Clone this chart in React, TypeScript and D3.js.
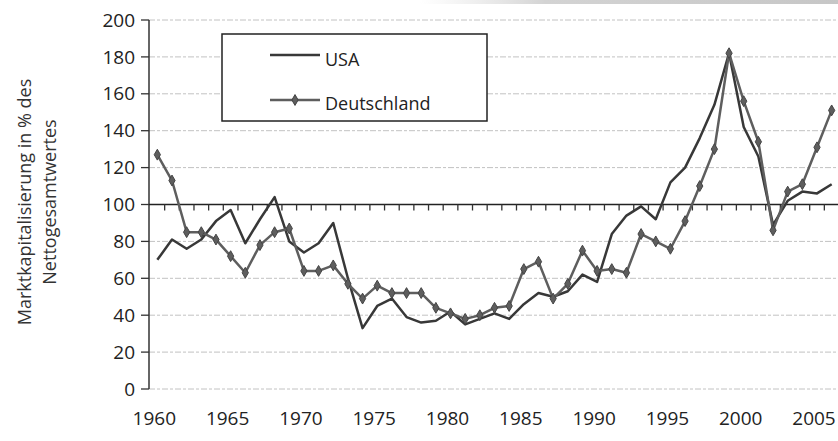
import React from "react";
import * as d3 from "d3";

const years: number[] = [
  1960, 1961, 1962, 1963, 1964, 1965, 1966, 1967, 1968, 1969,
  1970, 1971, 1972, 1973, 1974, 1975, 1976, 1977, 1978, 1979,
  1980, 1981, 1982, 1983, 1984, 1985, 1986, 1987, 1988, 1989,
  1990, 1991, 1992, 1993, 1994, 1995, 1996, 1997, 1998, 1999,
  2000, 2001, 2002, 2003, 2004, 2005, 2006,
];

const usa: number[] = [
  70, 81, 76, 81, 91, 97, 79, 92, 104, 80,
  74, 79, 90, 60, 33, 45, 49, 39, 36, 37,
  42, 35, 38, 41, 38, 46, 52, 50, 53, 62,
  58, 84, 94, 99, 92, 112, 120, 136, 154, 182,
  142, 126, 89, 102, 107, 106, 111,
];

const deutschland: number[] = [
  127, 113, 85, 85, 81, 72, 63, 78, 85, 87,
  64, 64, 67, 57, 49, 56, 52, 52, 52, 44,
  41, 38, 40, 44, 45, 65, 69, 49, 57, 75,
  64, 65, 63, 84, 80, 76, 91, 110, 130, 182,
  156, 134, 86, 107, 111, 131, 151,
];

const yTicks: number[] = [0, 20, 40, 60, 80, 100, 120, 140, 160, 180, 200];
const xLabelYears: number[] = [1960, 1965, 1970, 1975, 1980, 1985, 1990, 1995, 2000, 2005];
const seriesNames: string[] = ["USA", "Deutschland"];
const yTitleLines: string[] = ["Marktkapitalisierung in % des", "Nettogesamtwertes"];

const FONT = "'Open Sans', sans-serif";

export default function App() {
  const W = 838;
  const H = 441;
  const axisX = 149;
  const x = d3.scaleBand<number>().domain(years).range([150, 839]);
  const xc = (yr: number) => (x(yr) as number) + x.bandwidth() / 2;
  const y = d3.scaleLinear().domain([0, 200]).range([389, 20]);

  const line = d3
    .line<number>()
    .x((_, i) => xc(years[i]))
    .y((v) => y(v));

  const diamond = d3.symbol().type(d3.symbolDiamond).size(34)() as string;
  const usaColor = "#383838";
  const deColor = "#5e5e5e";

  const boundaries = years.slice(1).map((yr) => x(yr) as number);

  return (
    <svg width={W} height={H} style={{ display: "block", position: "absolute", left: 0, top: 0, background: "#fff" }}>
      <defs>
        <linearGradient id="scanEdge" x1="0" x2="1" y1="0" y2="0">
          <stop offset="0" stopColor="#d8d8d8" stopOpacity={0} />
          <stop offset="0.3" stopColor="#c8c8c8" stopOpacity={0.8} />
          <stop offset="1" stopColor="#c0c0c0" stopOpacity={0.9} />
        </linearGradient>
      </defs>
      <rect x={0} y={0} width={W} height={H} fill="#fff" />
      <rect x={420} y={0} width={W - 420} height={4} fill="url(#scanEdge)" />
      {/* gridlines */}
      {yTicks.filter((t) => t !== 100).map((t) => (
        <line key={"g" + t} x1={axisX} x2={W} y1={y(t)} y2={y(t)} stroke="#c2c2c2" strokeWidth={1} strokeDasharray="6 2 3 2" />
      ))}
      {/* y axis */}
      <line x1={axisX} x2={axisX} y1={y(200)} y2={y(0)} stroke="#333" strokeWidth={1.5} />
      {yTicks.map((t) => (
        <g key={"yt" + t}>
          <line x1={axisX - 8} x2={axisX} y1={y(t)} y2={y(t)} stroke="#333" strokeWidth={1.3} />
          <text x={135} y={y(t)} dy="0.35em" textAnchor="end" fontFamily={FONT} fontSize={19} fill="#222">
            {t}
          </text>
        </g>
      ))}
      {/* category axis crossing at 100 */}
      <line x1={axisX} x2={W} y1={y(100)} y2={y(100)} stroke="#222" strokeWidth={1.6} />
      {boundaries.map((bx, i) => (
        <line key={"xt" + i} x1={bx} x2={bx} y1={y(100)} y2={y(100) + 6} stroke="#333" strokeWidth={1.3} />
      ))}
      {xLabelYears.map((yr) => (
        <text key={"xl" + yr} x={xc(yr) - 3} y={425} textAnchor="middle" fontFamily={FONT} fontSize={19} fill="#222">
          {yr}
        </text>
      ))}
      {/* y title */}
      {yTitleLines.map((s, i) => (
        <text
          key={"yl" + i}
          transform={`translate(${31 + i * 25},202) rotate(-90)`}
          textAnchor="middle"
          fontFamily={FONT}
          fontSize={18}
          fill="#333"
        >
          {s}
        </text>
      ))}
      {/* series */}
      <path d={line(usa) as string} fill="none" stroke={usaColor} strokeWidth={2.5} strokeLinejoin="round" />
      <path d={line(deutschland) as string} fill="none" stroke={deColor} strokeWidth={2.5} strokeLinejoin="round" />
      {deutschland.map((v, i) => (
        <path key={"m" + i} d={diamond} transform={`translate(${xc(years[i])},${y(v)})`} fill={deColor} stroke="#444" strokeWidth={1} />
      ))}
      {/* legend */}
      <rect x={222} y={34} width={265} height={87} fill="#fff" stroke="#222" strokeWidth={1.5} />
      <line x1={270} x2={320} y1={55} y2={55} stroke={usaColor} strokeWidth={2.5} />
      <text x={325} y={66} fontFamily={FONT} fontSize={18} fill="#222">{seriesNames[0]}</text>
      <line x1={270} x2={320} y1={100} y2={100} stroke={deColor} strokeWidth={2.5} />
      <path d={diamond} transform="translate(295,100)" fill={deColor} stroke="#444" strokeWidth={1} />
      <text x={325} y={110} fontFamily={FONT} fontSize={18} fill="#222">{seriesNames[1]}</text>
    </svg>
  );
}
